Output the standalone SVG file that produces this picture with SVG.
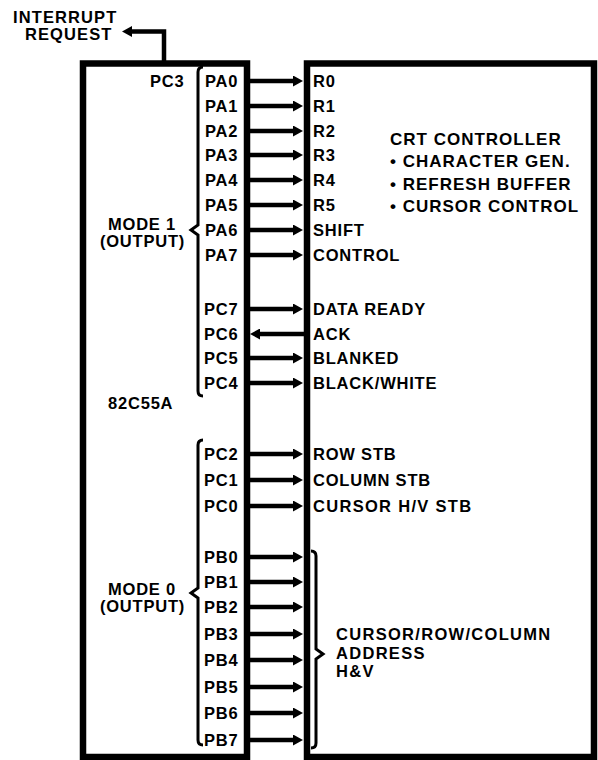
<svg xmlns="http://www.w3.org/2000/svg" width="598" height="760" viewBox="0 0 598 760">
<style>
text{font-family:"Liberation Sans",Arial,sans-serif;font-weight:bold;font-size:16.5px;letter-spacing:0.8px;fill:#000}
.big{font-size:17px;letter-spacing:1px}
.irq{letter-spacing:1.1px}
.wide{letter-spacing:1.3px}
.mid{text-anchor:middle}
.box{fill:none;stroke:#000;stroke-width:6.5}
.arr{stroke:#000;stroke-width:4.5;fill:none;marker-end:url(#ah)}
.brace{fill:none;stroke:#000;stroke-width:3;stroke-linejoin:miter}
</style>
<defs>
<marker id="ah" markerUnits="userSpaceOnUse" viewBox="0 0 10 11" markerWidth="10" markerHeight="11" refX="3" refY="5.5" orient="auto">
<path d="M0,0 L10,5.5 L0,11 Z" fill="#000"/>
</marker>
</defs>
<rect width="598" height="760" fill="#fff"/>

<g id="ppi-82c55a">
<path class="box" d="M83,763 V63.5 H247 V763 M80,757 H250"/>
<text x="150" y="87">PC3</text>
<text x="108" y="409">82C55A</text>
<text class="mid"><tspan x="142" y="230">MODE 1</tspan><tspan x="142.5" y="247">(OUTPUT)</tspan></text>
<text class="mid"><tspan x="142" y="595">MODE 0</tspan><tspan x="142.5" y="612">(OUTPUT)</tspan></text>
<path class="brace" d="M203,67 Q198,67 198,72 V225 L191,230 L198,235 V391 Q198,396 203,396"/>
<path class="brace" d="M203,440 Q198,440 198,445 V588 L191,593 L198,598 V740 Q198,745 203,745"/>
<text x="205" y="87">PA0</text>
<text x="205" y="112">PA1</text>
<text x="205" y="137">PA2</text>
<text x="205" y="161">PA3</text>
<text x="205" y="186">PA4</text>
<text x="205" y="211">PA5</text>
<text x="205" y="236">PA6</text>
<text x="205" y="261">PA7</text>
<text x="204" y="315">PC7</text>
<text x="204" y="340">PC6</text>
<text x="204" y="364">PC5</text>
<text x="204" y="389">PC4</text>
<text x="204" y="460">PC2</text>
<text x="204" y="486">PC1</text>
<text x="204" y="512">PC0</text>
<text x="204" y="563">PB0</text>
<text x="204" y="588">PB1</text>
<text x="204" y="613">PB2</text>
<text x="204" y="640">PB3</text>
<text x="204" y="666">PB4</text>
<text x="204" y="693">PB5</text>
<text x="204" y="719">PB6</text>
<text x="204" y="746">PB7</text>
</g>

<g id="crt-controller">
<path class="box" d="M307,763 V63.5 H594 V763 M304,757 H597"/>
<text class="big"><tspan x="390" y="145">CRT CONTROLLER</tspan><tspan x="390" y="167">• CHARACTER GEN.</tspan><tspan x="390" y="190">• REFRESH BUFFER</tspan><tspan x="390" y="212">• CURSOR CONTROL</tspan></text>
<text x="313" y="87">R0</text>
<text x="313" y="112">R1</text>
<text x="313" y="137">R2</text>
<text x="313" y="161">R3</text>
<text x="313" y="186">R4</text>
<text x="313" y="211">R5</text>
<text x="313" y="236">SHIFT</text>
<text x="313" y="261">CONTROL</text>
<text x="313" y="315">DATA READY</text>
<text x="313" y="340">ACK</text>
<text x="313" y="364">BLANKED</text>
<text x="313" y="389">BLACK/WHITE</text>
<text x="313" y="460">ROW STB</text>
<text x="313" y="486">COLUMN STB</text>
<text class="wide" x="313" y="512">CURSOR H/V STB</text>
<path class="brace" d="M311,551 Q316,551 316,556 V649 L323,654 L316,659 V743 Q316,748 311,748"/>
<text class="wide"><tspan x="336" y="640">CURSOR/ROW/COLUMN</tspan><tspan x="336" y="659">ADDRESS</tspan><tspan x="336" y="677">H&amp;V</tspan></text>
</g>

<g id="interrupt-request">
<text class="irq"><tspan x="13" y="23">INTERRUPT</tspan><tspan x="25" y="40">REQUEST</tspan></text>
</g>

<g id="connectors">
<path class="arr" stroke-width="4" d="M164,63 V31.5 H129"/>
<line class="arr" x1="250" y1="81" x2="296" y2="81"/>
<line class="arr" x1="250" y1="106" x2="296" y2="106"/>
<line class="arr" x1="250" y1="131" x2="296" y2="131"/>
<line class="arr" x1="250" y1="155" x2="296" y2="155"/>
<line class="arr" x1="250" y1="180" x2="296" y2="180"/>
<line class="arr" x1="250" y1="205" x2="296" y2="205"/>
<line class="arr" x1="250" y1="230" x2="296" y2="230"/>
<line class="arr" x1="250" y1="255" x2="296" y2="255"/>
<line class="arr" x1="250" y1="309" x2="296" y2="309"/>
<line class="arr" x1="304" y1="334" x2="257" y2="334"/>
<line class="arr" x1="250" y1="358" x2="296" y2="358"/>
<line class="arr" x1="250" y1="383" x2="296" y2="383"/>
<line class="arr" x1="250" y1="454" x2="296" y2="454"/>
<line class="arr" x1="250" y1="480" x2="296" y2="480"/>
<line class="arr" x1="250" y1="506" x2="296" y2="506"/>
<line class="arr" x1="250" y1="557" x2="296" y2="557"/>
<line class="arr" x1="250" y1="582" x2="296" y2="582"/>
<line class="arr" x1="250" y1="607" x2="296" y2="607"/>
<line class="arr" x1="250" y1="634" x2="296" y2="634"/>
<line class="arr" x1="250" y1="660" x2="296" y2="660"/>
<line class="arr" x1="250" y1="687" x2="296" y2="687"/>
<line class="arr" x1="250" y1="713" x2="296" y2="713"/>
<line class="arr" x1="250" y1="740" x2="296" y2="740"/>
</g>
</svg>
